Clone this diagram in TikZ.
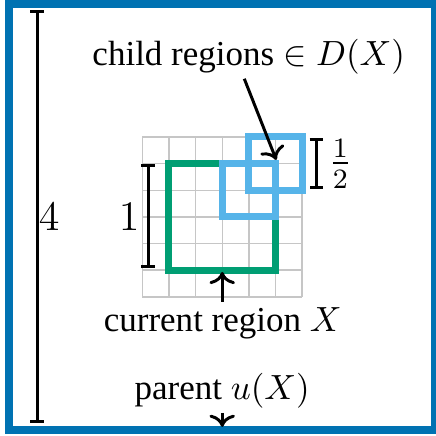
\documentclass[tikz,border=0pt]{standalone}
\usepackage{fontspec}
\setmainfont{Liberation Serif}
\usetikzlibrary{arrows.meta}

\definecolor{parentblue}{RGB}{0,114,178}
\definecolor{regiongreen}{RGB}{0,158,115}
\definecolor{childblue}{RGB}{86,180,233}

\begin{document}
\begin{tikzpicture}[
x=1.07cm, y=1.07cm,
region/.style={line width=2pt},
sizebar/.style={{Bar[width=3.8pt]}-{Bar[width=3.8pt]}, line width=0.85pt},
arrow/.style={->, line width=0.85pt},
txt/.style={anchor=base, inner sep=0pt}
]
\useasboundingbox (-0.085,-0.056) rectangle (4.0,4.035);
% cells of size 1/4 around X
\draw[gray!45, line width=0.4pt, shift={(1.25,1.25)}] (0,0) grid[step=0.25] (1.5,1.5);
% parent region
\draw[parentblue, line width=2.3pt] (0,0) rectangle (4,4);
% current region and its children
\draw[region, regiongreen] (1.5,1.5) rectangle (2.5,2.5);
\draw[region, childblue] (2,2) rectangle (2.5,2.5);
\draw[region, childblue] (2.25,2.25) rectangle (2.75,2.75);

% size bars
\coordinate (fourbot) at (0.263,0.062);
\coordinate (fourtop) at (0.263,3.944);
\coordinate (onebot) at (1.305,1.518);
\coordinate (onetop) at (1.305,2.493);
\coordinate (halfbot) at (2.883,2.26);
\coordinate (halftop) at (2.883,2.739);
\draw[sizebar] (fourbot) -- (fourtop);
\draw[sizebar] (onebot) -- (onetop);
\draw[sizebar] (halfbot) -- (halftop);
\node (four) at (0.376,2.0) {\large $4$};
\node (one) at (1.127,2.0) {\large $1$};
\node (half) at (3.108,2.5) {\large $\frac{1}{2}$};

% labels
\node[txt] (child) at (2.249,3.418) {child regions $\in D(X)$};
\node[txt] (current) at (2.005,0.920) {current region $X$};
\node[txt] (parent) at (2.0,0.291) {parent $u(X)$};
\coordinate (childtail) at (2.207,3.296);
\coordinate (childtip) at (2.507,2.535);
\coordinate (currenttail) at (2.0,1.202);
\coordinate (currenttip) at (2.0,1.483);
\coordinate (parenttail) at (2.0,0.16);
\coordinate (parenttip) at (2.0,0.03);
\draw[arrow] (childtail) -- (childtip);
\draw[arrow] (currenttail) -- (currenttip);
\draw[arrow] (parenttail) -- (parenttip);
\end{tikzpicture}
\end{document}
